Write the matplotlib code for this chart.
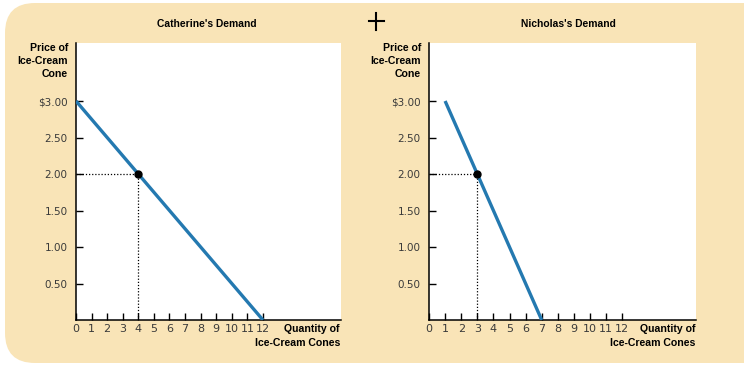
import matplotlib.pyplot as plt
from matplotlib.patches import FancyBboxPatch, Rectangle

plt.rcParams['font.family'] = ['Liberation Sans', 'DejaVu Sans']

# data
cath_q = [0, 12]
cath_p = [3.0, 0.0]
nich_q = [1, 7]
nich_p = [3.0, 0.0]
cath_pt = (4, 2.0)
nich_pt = (3, 2.0)
price_ticks = [0.5, 1.0, 1.5, 2.0, 2.5, 3.0]
price_labels = ['0.50', '1.00', '1.50', '2.00', '2.50', '$3.00']
qty_ticks = list(range(0, 13))

blue = '#2479b0'
beige = '#f9e4b7'

fig = plt.figure(figsize=(7.48, 3.68), dpi=100)
W, H = 748, 368

# beige panel, rounded on the left, square on the right (cut by white strip)
bg = fig.add_axes([0, 0, 1, 1], zorder=-5)
bg.set_xlim(0, W)
bg.set_ylim(H, 0)
bg.axis('off')
bg.add_patch(FancyBboxPatch((5, 3), 840, 360, boxstyle='round,pad=0,rounding_size=30',
                            fc=beige, ec='none'))
bg.add_patch(Rectangle((744, 0), 10, H, fc='white', ec='none'))
# plus sign between the panels
bg.plot([369, 384], [21, 21], color='black', lw=1.5)
bg.plot([376.5, 376.5], [13, 30], color='black', lw=1.5)


def panel(left_px, right_px, unit_px, q, p, pt, title, title_x):
    ax = fig.add_axes([left_px / W, 1 - 320 / H, (right_px - left_px) / W, 277 / H])
    ax.set_facecolor('white')
    ax.plot(q, p, color=blue, lw=2.4, solid_capstyle='butt', zorder=3)
    ax.plot([0, pt[0]], [pt[1], pt[1]], color='black', lw=0.9, ls=(0, (1, 1.5)))
    ax.plot([pt[0], pt[0]], [0, pt[1]], color='black', lw=0.9, ls=(0, (1, 1.5)))
    ax.plot(*pt, 'o', color='black', ms=5, zorder=4)
    ax.set_xlim(0, (right_px - left_px) / unit_px)
    ax.set_ylim(0, 277 / 73)
    ax.set_xticks(qty_ticks)
    ax.set_xticklabels([str(t) for t in qty_ticks])
    ax.set_yticks(price_ticks)
    ax.set_yticklabels(price_labels)
    for lab in ax.get_xticklabels() + ax.get_yticklabels():
        lab.set_family('DejaVu Sans')
        lab.set_fontsize(7.5)
        lab.set_color('#3a3a3a')
    for lab in ax.get_xticklabels():
        lab.set_fontsize(8)
    ax.tick_params(direction='in', length=5, width=1, color='black', pad=6)
    ax.tick_params(axis='x', pad=3)
    for s in ['top', 'right']:
        ax.spines[s].set_visible(False)
    for s in ['left', 'bottom']:
        ax.spines[s].set_linewidth(1.1)
    fig.text(title_x / W, 1 - 24 / H, title, fontsize=7.4, fontweight='bold',
             ha='center', va='center')
    fig.text((left_px - 8) / W, 1 - 43 / H, 'Price of\nIce-Cream\nCone', fontsize=7.6,
             fontweight='bold', ha='right', va='top', linespacing=1.35)
    fig.text((right_px - 1) / W, 1 - 329 / H, 'Quantity of', fontsize=7.6,
             fontweight='bold', ha='right', va='center')
    fig.text((right_px - 1) / W, 1 - 343 / H, 'Ice-Cream Cones', fontsize=7.6,
             fontweight='bold', ha='right', va='center')
    return ax


panel(76, 341, 15.58, cath_q, cath_p, cath_pt, "Catherine's Demand", 207)
panel(429, 696, 16.1, nich_q, nich_p, nich_pt, "Nicholas's Demand", 568)

fig.savefig('out.png', dpi=100, facecolor='white')
